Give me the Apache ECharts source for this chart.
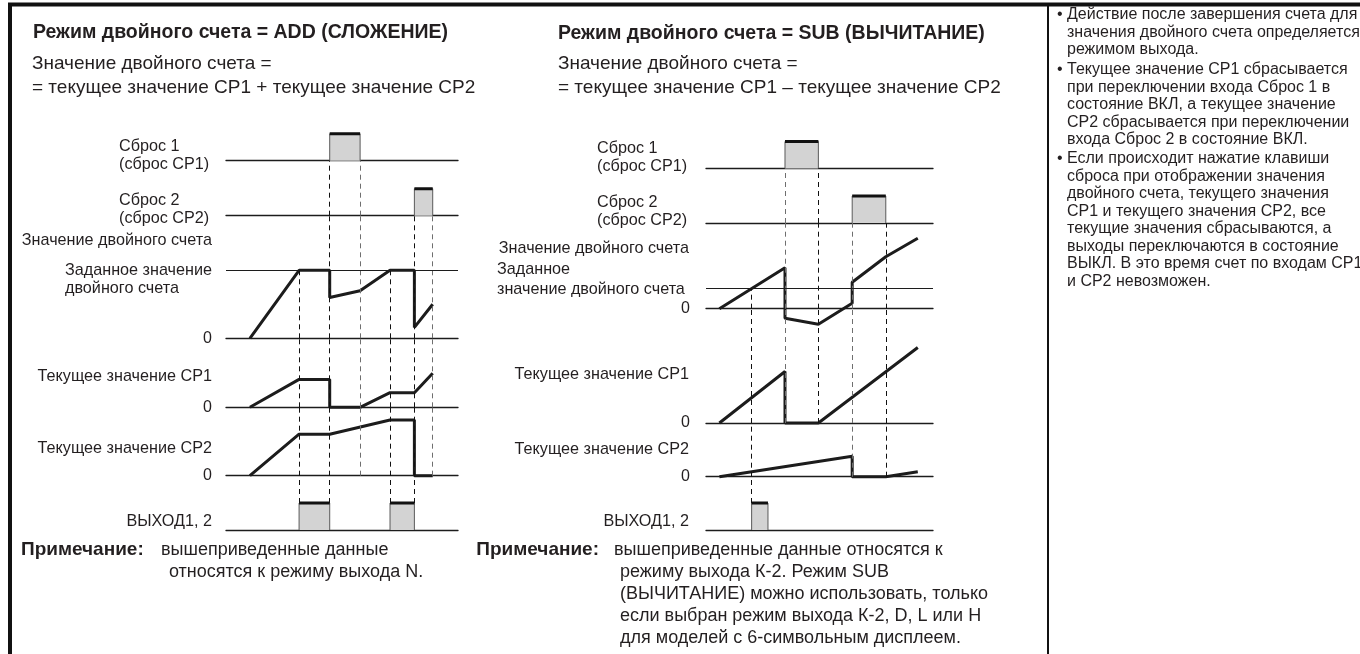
<!DOCTYPE html>
<html lang="ru">
<head>
<meta charset="utf-8">
<title>Режим двойного счета</title>
<script src="https://cdn.jsdelivr.net/npm/echarts@6/dist/echarts.min.js"></script>
<style>
html, body { margin: 0; padding: 0; background: #fff; }
#chart { width: 1360px; height: 654px; }
</style>
</head>
<body>
<div id="chart"></div>
<script>
// ---------- ADD mode: time axis 0..100, counts in arbitrary units ----------
const addReset1 = [[44.7, 57.8]];                 // [on, off]
const addReset2 = [[81.2, 89.1]];
const addOutput = [[31.5, 44.7], [70.7, 81.2]];
const addSetpoint = 100;
const addDual = [[10.3, 0], [31.5, 100], [44.7, 100], [44.7, 60], [57.8, 70], [70.7, 100], [81.2, 100], [81.2, 16], [89.1, 50]];
const addCP1 = [[10.3, 0], [31.5, 41], [44.7, 41], [44.7, 0], [57.8, 0], [70.7, 21.5], [81.2, 21.5], [89.1, 50]];
const addCP2 = [[10.3, 0], [31.5, 61], [44.7, 61], [70.7, 82], [81.2, 82], [81.2, 0], [89.1, 0]];
// guide lines: [time, starts at, ends at, tone]
const addGuides = [[31.5, 'set', 'out', 'dark'], [44.7, 'r1', 'out', 'dark'], [57.8, 'r1', 'cp2', 'grey'],
                   [70.7, 'set', 'out', 'dark'], [81.2, 'r2', 'out', 'dark'], [89.1, 'r2', 'cp2', 'grey']];

// ---------- SUB mode ----------
const subReset1 = [[34.8, 49.5]];
const subReset2 = [[64.4, 79.2]];
const subOutput = [[20.1, 27.3]];
const subSetpoint = 40;
const subDual = [[5.9, 0], [34.8, 82], [34.8, -19], [49.5, -31], [64.4, 11], [64.4, 53], [79.2, 104], [93.3, 141]];
const subCP1 = [[5.9, 0], [34.8, 103], [34.8, 0], [49.5, 0], [93.3, 151]];
const subCP2 = [[5.9, 0], [64.4, 41], [64.4, 0], [79.2, 0], [93.3, 10]];
const subGuides = [[20.1, 'set', 'out', 'dark'], [34.8, 'r1', 'cp1', 'grey'], [49.5, 'r1', 'cp1', 'dark'],
                   [64.4, 'r2', 'cp2', 'grey'], [79.2, 'r2', 'cp2', 'dark']];

const panelData = {
  add: { reset1: addReset1, reset2: addReset2, dual: addDual, cp1: addCP1, cp2: addCP2, output: addOutput, setpoint: addSetpoint, guides: addGuides },
  sub: { reset1: subReset1, reset2: subReset2, dual: subDual, cp1: subCP1, cp2: subCP2, output: subOutput, setpoint: subSetpoint, guides: subGuides }
};

// ---------- layout: six stacked rows per panel (reset1, reset2, dual, CP1, CP2, output) ----------
const layouts = {
  add: { left: 226, right: 458, top: 122, base: [160.7, 215.7, 338.3, 407.3, 475.7, 530], pulsePx: 27, unitPx: 0.68, labelGap: 14, zeroNudge: [0, -2, 1] },
  sub: { left: 706, right: 933, top: 130, base: [168.5, 223, 308.7, 423, 476.7, 530], pulsePx: 27, unitPx: 0.5, labelGap: 16, zeroNudge: [2, -7, 0] }
};

const INK = '#231f20';
const TRACE = '#1c1c1c';
const FONT = "'Liberation Sans', Arial, Helvetica, sans-serif";

const grid = [], xAxis = [], yAxis = [], series = [];

function buildPanel(key) {
  const L = layouts[key], D = panelData[key];
  const first = grid.length;
  const yMax = [];
  for (let r = 0; r < 6; r++) {
    const top = r === 0 ? L.top : L.base[r - 1];
    const h = L.base[r] - top;
    const isPulse = r === 0 || r === 1 || r === 5;
    const max = h / (isPulse ? L.pulsePx : L.unitPx);
    yMax.push(max);
    grid.push({ left: L.left, top: top, width: L.right - L.left, height: h });
    xAxis.push({
      type: 'value', gridIndex: first + r, min: 0, max: 100,
      axisLine: { show: true, lineStyle: { color: TRACE, width: 1.3 } },
      axisTick: { show: false }, axisLabel: { show: false }, splitLine: { show: false }
    });
    const nudge = isPulse ? 0 : L.zeroNudge[r - 2];
    yAxis.push({
      type: 'value', gridIndex: first + r, min: 0, max: max,
      axisLine: { show: false }, axisTick: { show: false }, splitLine: { show: false },
      axisLabel: {
        show: !isPulse, margin: L.labelGap, color: INK, fontSize: 16, fontFamily: FONT,
        formatter: v => (v === 0 ? '0' : ''),
        padding: nudge > 0 ? [2 * nudge, 0, 0, 0] : [0, 0, -2 * nudge, 0]
      }
    });
  }

  // pulse rows: grey box with a heavy top edge
  const pulseRow = (pulses, r) => pulses.forEach(([on, off]) => {
    series.push({
      type: 'line', xAxisIndex: first + r, yAxisIndex: first + r, silent: true, z: 2, clip: false,
      symbol: 'none', data: [[on, 0], [on, 1], [off, 1], [off, 0]],
      lineStyle: { color: '#5a5a5a', width: 1 }, areaStyle: { color: '#d3d3d3', opacity: 1 }
    });
    series.push({
      type: 'line', xAxisIndex: first + r, yAxisIndex: first + r, silent: true, z: 3, clip: false,
      symbol: 'none', data: [[on, 1], [off, 1]], lineStyle: { color: '#111', width: 3 }
    });
  });
  pulseRow(D.reset1, 0);
  pulseRow(D.reset2, 1);
  pulseRow(D.output, 5);

  // count traces
  [[D.dual, 2], [D.cp1, 3], [D.cp2, 4]].forEach(([data, r]) => {
    series.push({
      type: 'line', xAxisIndex: first + r, yAxisIndex: first + r, silent: true, z: 4, clip: false,
      symbol: 'none', data: data, lineStyle: { color: TRACE, width: 3 }
    });
  });

  // dashed timing guides, split across the rows they pass through
  const segs = Array.from({ length: 6 }, () => []);
  D.guides.forEach(([t, from, to, tone]) => {
    const startRow = from === 'r1' ? 1 : 2;
    const endRow = to === 'cp1' ? 3 : to === 'cp2' ? 4 : 5;
    const style = { type: [5, 4], color: tone === 'dark' ? '#111' : '#6f6f6f', width: 1 };
    for (let r = startRow; r <= endRow; r++) {
      let y0 = 0, y1 = yMax[r];
      if (from === 'set' && r === 2) y1 = D.setpoint;
      if (to === 'out' && r === 5) y0 = 1;
      segs[r].push([{ coord: [t, y0], lineStyle: style }, { coord: [t, y1] }]);
    }
  });
  segs[2].push({ yAxis: D.setpoint, lineStyle: { type: 'solid', color: TRACE, width: 1 } });
  for (let r = 0; r < 6; r++) {
    if (!segs[r].length) continue;
    series.push({
      type: 'line', xAxisIndex: first + r, yAxisIndex: first + r, silent: true, z: 1, data: [],
      markLine: { silent: true, symbol: ['none', 'none'], label: { show: false }, animation: false, data: segs[r] }
    });
  }
}
buildPanel('add');
buildPanel('sub');

// ---------- text ----------
function txt(x, y, s, size, opt) {
  opt = opt || {};
  const align = opt.align || 'left';
  return {
    type: 'text', x: x, y: y, silent: true, z: 10,
    style: {
      text: s, fill: INK, font: (opt.bold ? 'bold ' : '') + size + 'px ' + FONT,
      align: align, verticalAlign: opt.va || 'middle', textAlign: align, textVerticalAlign: opt.va || 'middle',
      lineHeight: opt.lh
    }
  };
}
const TITLE = 19.5, HEAD = 19, LAB = 16.2, NOTE = 18, NOTE_B = 19, SIDE = 16;
const texts = [
  // ADD
  txt(33, 33, 'Режим двойного счета = ADD (СЛОЖЕНИЕ)', TITLE, { bold: true }),
  txt(32, 64, 'Значение двойного счета =', HEAD),
  txt(32, 88, '= текущее значение CP1 + текущее значение CP2', HEAD),
  txt(119, 147, 'Сброс 1', LAB), txt(119, 165, '(сброс CP1)', LAB),
  txt(119, 201, 'Сброс 2', LAB), txt(119, 219, '(сброс CP2)', LAB),
  txt(212, 241, 'Значение двойного счета', LAB, { align: 'right' }),
  txt(212, 271, 'Заданное значение', LAB, { align: 'right' }),
  txt(65, 289, 'двойного счета', LAB),
  txt(212, 377, 'Текущее значение CP1', LAB, { align: 'right' }),
  txt(212, 449, 'Текущее значение CP2', LAB, { align: 'right' }),
  txt(212, 522, 'ВЫХОД1, 2', LAB, { align: 'right' }),
  txt(21, 550, 'Примечание:', NOTE_B, { bold: true }),
  txt(161, 550, 'вышеприведенные данные', NOTE),
  txt(169, 572, 'относятся к режиму выхода N.', NOTE),
  // SUB
  txt(558, 34, 'Режим двойного счета = SUB (ВЫЧИТАНИЕ)', TITLE, { bold: true }),
  txt(558, 64, 'Значение двойного счета =', HEAD),
  txt(558, 88, '= текущее значение CP1 – текущее значение CP2', HEAD),
  txt(597, 149, 'Сброс 1', LAB), txt(597, 167, '(сброс CP1)', LAB),
  txt(597, 203, 'Сброс 2', LAB), txt(597, 221, '(сброс CP2)', LAB),
  txt(689, 249, 'Значение двойного счета', LAB, { align: 'right' }),
  txt(497, 270, 'Заданное', LAB),
  txt(497, 290, 'значение двойного счета', LAB),
  txt(689, 375, 'Текущее значение CP1', LAB, { align: 'right' }),
  txt(689, 450, 'Текущее значение CP2', LAB, { align: 'right' }),
  txt(689, 522, 'ВЫХОД1, 2', LAB, { align: 'right' }),
  txt(599, 550, 'Примечание:', NOTE_B, { bold: true, align: 'right' }),
  txt(614, 550, 'вышеприведенные данные относятся к', NOTE),
  txt(620, 572, 'режиму выхода К-2. Режим SUB', NOTE),
  txt(620, 594, '(ВЫЧИТАНИЕ) можно использовать, только', NOTE),
  txt(620, 616, 'если выбран режим выхода К-2, D, L или H', NOTE),
  txt(620, 638, 'для моделей с 6-символьным дисплеем.', NOTE),
  // side notes
  txt(1057, 15, '•', SIDE), txt(1067, 6.25,
    'Действие после завершения счета для\nзначения двойного счета определяется\nрежимом выхода.', SIDE, { va: 'top', lh: 17.5 }),
  txt(1057, 70, '•', SIDE), txt(1067, 61.25,
    'Текущее значение CP1 сбрасывается\nпри переключении входа Сброс 1 в\nсостояние ВКЛ, а текущее значение\nCP2 сбрасывается при переключении\nвхода Сброс 2 в состояние ВКЛ.', SIDE, { va: 'top', lh: 17.5 }),
  txt(1057, 159, '•', SIDE), txt(1067, 150.25,
    'Если происходит нажатие клавиши\nсброса при отображении значения\nдвойного счета, текущего значения\nCP1 и текущего значения CP2, все\nтекущие значения сбрасываются, а\nвыходы переключаются в состояние\nВЫКЛ. В это время счет по входам CP1\nи CP2 невозможен.', SIDE, { va: 'top', lh: 17.5 })
];

// frame lines
const frame = [
  { type: 'line', shape: { x1: 8, y1: 4.5, x2: 1360, y2: 4.5 }, style: { stroke: '#111', lineWidth: 4 }, silent: true },
  { type: 'line', shape: { x1: 10, y1: 3, x2: 10, y2: 654 }, style: { stroke: '#111', lineWidth: 4 }, silent: true },
  { type: 'line', shape: { x1: 1048, y1: 4, x2: 1048, y2: 654 }, style: { stroke: '#111', lineWidth: 2 }, silent: true }
];

const chart = echarts.init(document.getElementById('chart'), null, { renderer: 'canvas' });
chart.setOption({
  animation: false,
  backgroundColor: '#fff',
  grid: grid, xAxis: xAxis, yAxis: yAxis, series: series,
  graphic: { elements: frame.concat(texts) }
});
</script>
</body>
</html>
